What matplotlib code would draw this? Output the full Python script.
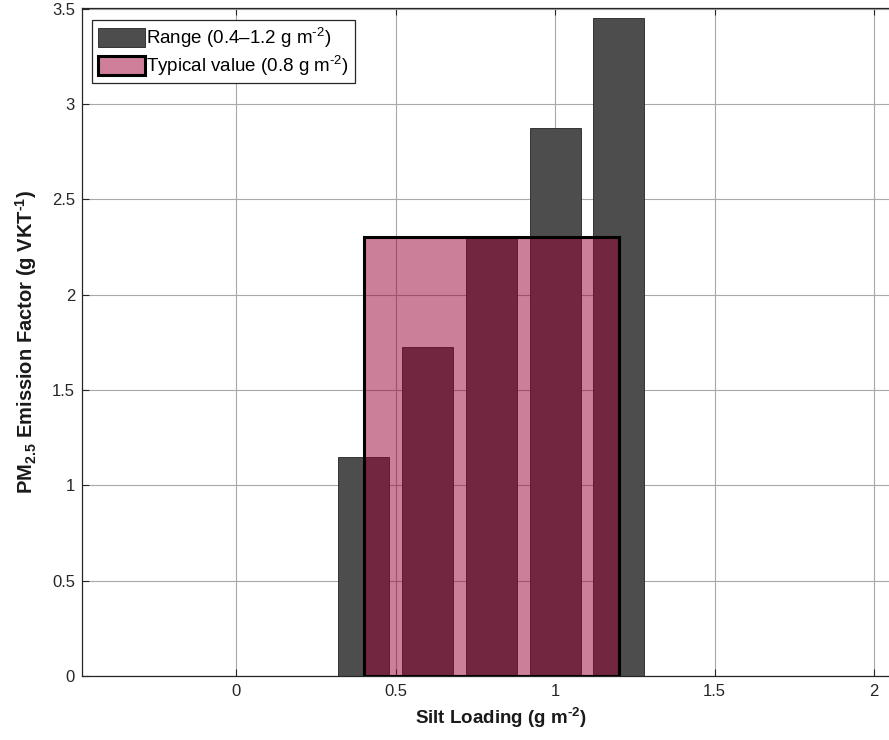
import numpy as np
import matplotlib.pyplot as plt
from matplotlib.patches import Rectangle

plt.rcParams['font.family'] = ['Liberation Sans', 'DejaVu Sans']
plt.rcParams['mathtext.fontset'] = 'custom'
plt.rcParams['mathtext.rm'] = 'Liberation Sans'
plt.rcParams['mathtext.bf'] = 'Liberation Sans:bold'
plt.rcParams['mathtext.it'] = 'Liberation Sans:italic'
plt.rcParams['mathtext.default'] = 'regular'

# silt loading (g m-2) and PM2.5 emission factor (g/VKT)
silt = [0.4, 0.6, 0.8, 1.0, 1.2]
ef = [1.15, 1.725, 2.3, 2.875, 3.45]
typ_lo = 0.4
typ_hi = 1.2
typ_ef = 2.3

xticks = [0, 0.5, 1, 1.5, 2]
xticklabels = ['0', '0.5', '1', '1.5', '2']
yticks = [0, 0.5, 1, 1.5, 2, 2.5, 3, 3.5]
yticklabels = ['0', '0.5', '1', '1.5', '2', '2.5', '3', '3.5']

HY = '\u2010'  # plain hyphen in the exponents

fig = plt.figure(figsize=(8.89, 7.4), dpi=100)
# axes runs past the right edge of the figure
ax = fig.add_axes([82/889, 64/740, (920-82)/889, 668/740])

ax.set_axisbelow(True)
ax.grid(True, color='#a8a8a8', lw=0.8)

b = ax.bar(silt, ef, width=0.16, color='#4d4d4d', edgecolor='#222222',
           lw=0.6, label='Range (0.4\u20131.2 g m$^{' + HY + '2}$)', zorder=2)
rect = Rectangle((typ_lo, 0), typ_hi - typ_lo, typ_ef, facecolor=(0.6, 0, 0.2),
                 alpha=0.5, edgecolor='none', zorder=3)
ax.add_patch(rect)
# solid outline drawn separately so the edge is not faded
ax.add_patch(Rectangle((typ_lo, 0), typ_hi - typ_lo, typ_ef, facecolor='none',
                       edgecolor='black', lw=2.2, zorder=4))
leg_patch = Rectangle((0, 0), 1, 1, facecolor='#cf7f99', edgecolor='black', lw=2.2,
                      label='Typical value (0.8 g m$^{' + HY + '2}$)')

ax.set_xlim(-0.483, 2.144)
ax.set_ylim(0, 3.503)
ax.set_xticks(xticks)
ax.set_xticklabels(xticklabels)
ax.set_yticks(yticks)
ax.set_yticklabels(yticklabels)
ax.tick_params(direction='in', top=True, right=True, length=5, width=0.8,
               labelsize=12, colors='#262626')
ax.tick_params(axis='x', pad=6)
ax.tick_params(axis='y', pad=5)
for s in ax.spines.values():
    s.set_color('#262626')
    s.set_linewidth(0.9)

ax.set_xlabel('Silt Loading (g m$\\mathbf{^{' + HY + '2}}$)', fontsize=13.5,
              fontweight='bold', color='#1a1a1a', labelpad=5)
ax.set_ylabel('PM$\\mathbf{_{2.5}}$ Emission Factor (g VKT$\\mathbf{^{' + HY + '1}}$)',
              fontsize=14.5, fontweight='bold', color='#1a1a1a', labelpad=9)

leg = ax.legend(handles=[b, leg_patch], loc='upper left', fontsize=13.5, fancybox=False,
                framealpha=1, edgecolor='#262626', handlelength=2.5, handleheight=1.2,
                handletextpad=0.1, borderpad=0.3, labelspacing=0.2,
                bbox_to_anchor=(0.012, 0.982), borderaxespad=0)
leg.get_frame().set_linewidth(0.9)

fig.savefig('out.png', dpi=100)
